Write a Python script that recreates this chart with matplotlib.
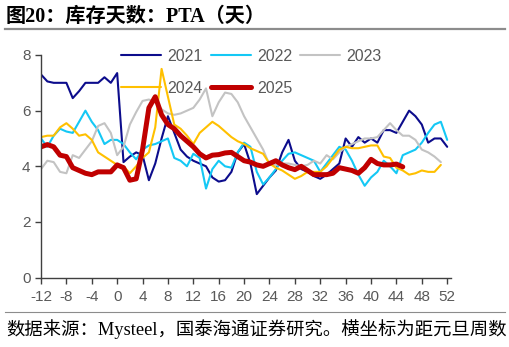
import numpy as np
import matplotlib
matplotlib.use("Agg")
import matplotlib.pyplot as plt

# weeks relative to new year
weeks = list(range(-12, 53))

pta_2021 = [7.3, 7.05, 7.0, 7.0, 7.0, 6.45, 6.7, 7.0, 7.0, 7.0, 7.2, 7.0, 7.35,
            4.15, 4.35, 4.5, 4.4, 3.5, 4.1, 5.0, 5.8, 5.2, 4.6, 4.35, 4.2, 4.1,
            4.0, 3.6, 3.45, 3.5, 3.8, 4.5, 4.8, 4.1, 3.0, 3.3, 3.6, 3.85, 4.5,
            4.95, 4.2, 3.9, 3.8, 3.65, 3.55, 3.7, 3.9, 4.1, 5.0, 4.7, 5.05, 4.85,
            5.0, 4.85, 5.3, 5.3, 5.2, 5.6, 6.0, 5.8, 5.5, 4.85, 5.0, 5.0, 4.7]
pta_2022 = [5.0, 4.7, 5.1, 5.35, 5.25, 5.2, 5.6, 6.0, 5.6, 5.3, 4.8, 4.95, 4.95,
            4.8, 4.5, 4.25, 4.6, 4.75, 4.8, 4.9, 5.0, 4.3, 4.2, 4.0, 4.45, 4.3,
            3.2, 3.9, 4.2, 4.0, 3.95, 4.5, 4.85, 4.7, 3.8, 3.35, 3.6, 3.9, 4.2,
            4.45, 4.5, 4.4, 4.3, 4.2, 3.8, 4.1, 4.4, 4.7, 4.6, 4.2, 3.7, 3.3,
            3.6, 3.8, 4.2, 4.0, 3.75, 4.4, 4.5, 4.6, 4.85, 5.2, 5.5, 5.6, 4.95]
pta_2023 = [3.9, 4.2, 4.15, 3.8, 3.75, 4.4, 4.3, 4.6, 4.9, 5.45, 5.55, 5.2, 4.4,
            4.7, 5.5, 5.95, 6.35, 6.4, 6.3, 6.05, 5.9, 5.85, 5.9, 6.0, 6.1, 6.4,
            6.8, 5.8, 6.3, 6.65, 6.6, 6.3, 5.8, 5.4, 5.0, 4.6, 4.05, 4.05, 4.1,
            4.1, 4.05, 4.0, 4.05, 4.2, 4.1, 4.4, 4.25, 4.5, 4.7, 4.8, 4.9, 5.0,
            5.0, 5.05, 5.3, 5.55, 5.3, 5.1, 5.1, 4.95, 4.6, 4.5, 4.35, 4.15]
pta_2024 = [5.05, 5.1, 5.1, 5.4, 5.55, 5.35, 5.1, 5.15, 4.95, 4.5, 4.35, 4.2, 4.05,
            4.0, 3.75, 4.0, 4.3, 4.5, 5.4, 7.5, 6.5, 5.5, 5.35, 5.1, 4.8, 5.2,
            5.4, 5.6, 5.45, 5.25, 5.05, 4.9, 4.8, 4.65, 4.55, 4.45, 4.1, 3.95,
            3.85, 3.7, 3.55, 3.65, 3.8, 3.8, 3.8, 4.0, 4.3, 4.6, 4.7, 4.65, 4.65,
            4.7, 4.75, 4.75, 4.35, 4.3, 3.95, 3.85, 3.7, 3.75, 3.85, 3.8, 3.8, 4.05]
pta_2025 = [4.7, 4.78, 4.7, 4.4, 4.35, 3.95, 3.85, 3.75, 3.7, 3.8, 3.8, 3.8, 4.05,
            3.95, 3.5, 3.55, 4.6, 6.1, 6.5, 5.85, 5.5, 5.35, 5.1, 4.9, 4.7, 4.45,
            4.3, 4.4, 4.42, 4.48, 4.5, 4.35, 4.2, 4.15, 4.05, 4.0, 4.1, 4.2, 4.05,
            3.95, 3.88, 4.0, 3.85, 3.7, 3.7, 3.7, 3.75, 3.95, 3.9, 3.85, 3.75,
            3.95, 4.25, 4.1, 4.05, 4.05, 4.08, 3.98]

xticks = list(range(-12, 53, 4))
yticks = [0, 2, 4, 6, 8]

series = [
    ("2021", pta_2021, "#0c0c8c", 1.5),
    ("2022", pta_2022, "#14c8f5", 1.5),
    ("2023", pta_2023, "#c3c3c3", 1.5),
    ("2024", pta_2024, "#ffc000", 1.5),
    ("2025", pta_2025, "#c00000", 3.6),
]

plt.rcParams['font.family'] = ['Liberation Sans', 'Noto Sans CJK SC']
plt.rcParams['axes.unicode_minus'] = False

fig = plt.figure(figsize=(5.1, 3.47), dpi=100)
ax = fig.add_axes([41 / 510, 0.2, (451 - 41) / 510, 0.6415])

lines = {}
for name, vals, color, lw in series:
    ln, = ax.plot(weeks[:len(vals)], vals, color=color, lw=lw, label=name,
                  solid_joinstyle='round', solid_capstyle='round')
    lines[name] = ln

ax.set_xlim(-12, 52.6)
ax.set_ylim(0, 8)
ax.set_xticks(xticks)
ax.set_yticks(yticks)
ax.tick_params(axis='both', direction='out', length=4, width=1, colors='#404040',
               labelcolor='#595959', labelsize=11)
ax.tick_params(axis='x', pad=5)
for side in ['top', 'right']:
    ax.spines[side].set_visible(False)
for side in ['left', 'bottom']:
    ax.spines[side].set_color('#404040')
    ax.spines[side].set_linewidth(1)

# row-major legend order: 2021 2022 2023 / 2024 2025
order = ["2021", "2024", "2022", "2025", "2023"]
leg = ax.legend([lines[k] for k in order], order, ncol=3, frameon=False,
                loc='upper left', bbox_to_anchor=(121 / 510, 1 - 49 / 347),
                bbox_transform=fig.transFigure, fontsize=11.5, handlelength=2.5,
                handletextpad=0.4, columnspacing=0.5, labelspacing=1.05,
                borderpad=0, borderaxespad=0)
for t in leg.get_texts():
    t.set_color('#595959')

fig.text(6 / 510, 1 - 17 / 347, "图20：库存天数：PTA（天）", fontsize=14.5, fontweight='bold',
         family=['Liberation Serif', 'Noto Sans CJK SC'], va='center', ha='left')
fig.add_artist(plt.Line2D([5 / 510, 505 / 510], [1 - 29 / 347, 1 - 29 / 347],
                          color='#8c8c8c', lw=1.6))
fig.add_artist(plt.Line2D([5 / 510, 505 / 510], [1 - 311.5 / 347, 1 - 311.5 / 347],
                          color='#8c8c8c', lw=0.8))
fig.text(6 / 510, 1 - 329 / 347, "数据来源：Mysteel，国泰海通证券研究。横坐标为距元旦周数",
         fontsize=13.2, family=['Liberation Serif', 'Noto Sans CJK SC'], va='center', ha='left')

fig.savefig("out.png", dpi=100)
